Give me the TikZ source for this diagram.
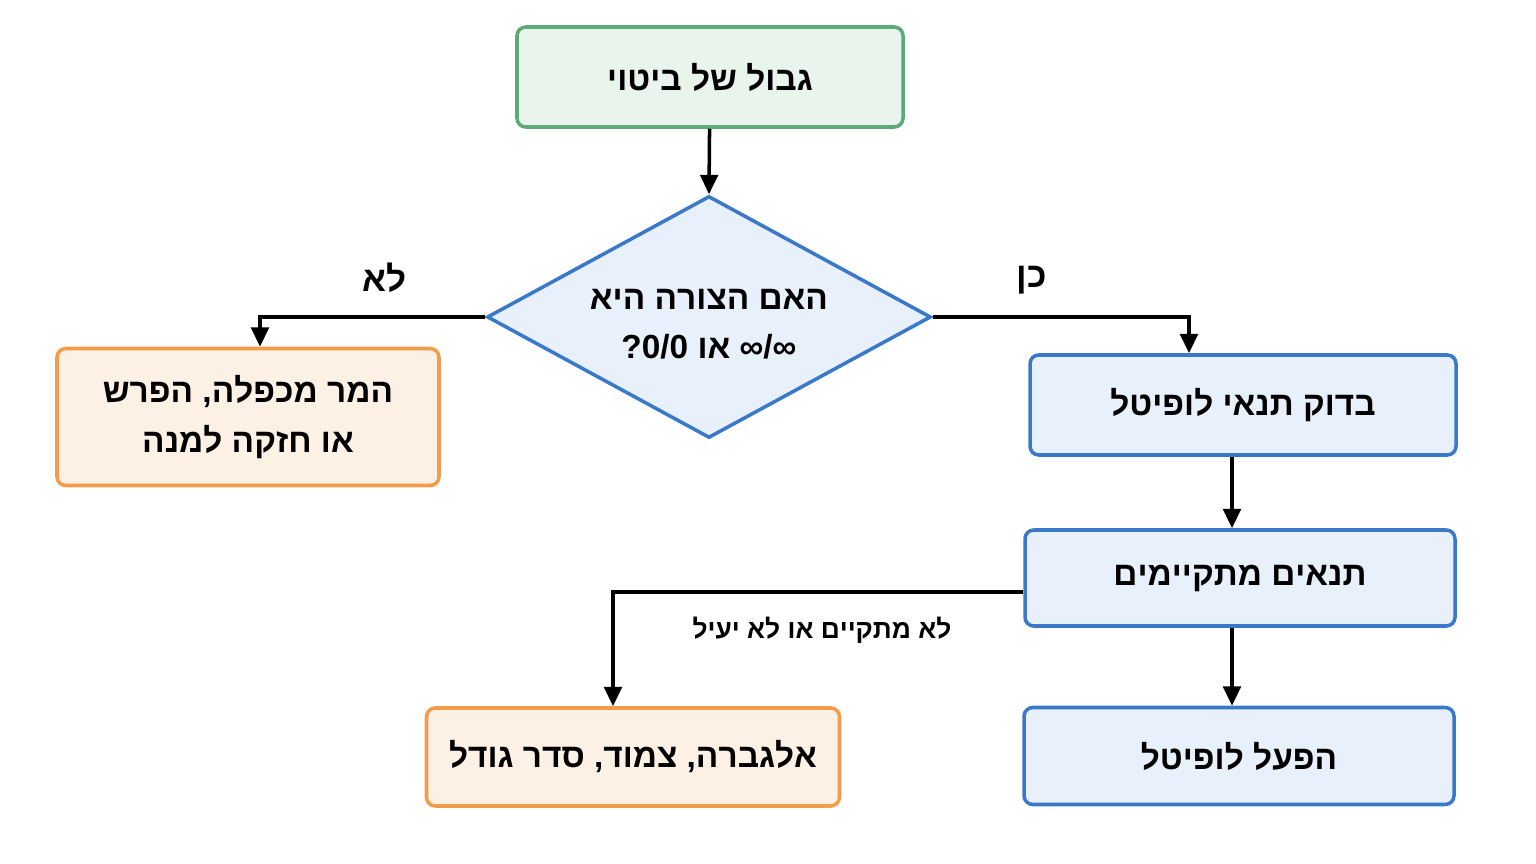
\documentclass[tikz,border=0pt]{standalone}
\usepackage{fontspec}
\setmainfont{Liberation Sans}
\usetikzlibrary{shapes.geometric,arrows.meta}
\TeXXeTstate=1
\newcommand{\RL}[1]{\beginR #1\endR}
\newcommand{\LR}[1]{\beginL #1\endL}
\definecolor{gfill}{HTML}{E9F5EC}\definecolor{gline}{HTML}{5BAA78}
\definecolor{bfill}{HTML}{E8F0FB}\definecolor{bline}{HTML}{3A78C9}
\definecolor{ofill}{HTML}{FDF0E4}\definecolor{oline}{HTML}{F39C4A}
\begin{document}
\begin{tikzpicture}[x=0.02cm,y=-0.02cm,
 box/.style={rectangle,rounded corners=5pt,line width=2pt,align=center,font=\fontsize{19}{28}\selectfont\bfseries,inner sep=0pt},
 arr/.style={line width=2pt,-{Triangle[length=11pt,width=10pt]}},
 lab/.style={font=\fontsize{20}{24}\selectfont\bfseries}]
\useasboundingbox[fill=white] (0,0) rectangle (1536,864);
\node[box,fill=gfill,draw=gline,minimum width=386*0.02cm,minimum height=100*0.02cm] (start) at (710,77) {\RL{גבול של ביטוי}};
\node[diamond,aspect=1.83,fill=bfill,draw=bline,line width=2pt,minimum width=444*0.02cm,minimum height=242*0.02cm,inner sep=0pt] (dec) at (709,317) {};
\node[align=center,font=\fontsize{19}{28}\selectfont\bfseries] at (709,324) {\RL{האם הצורה היא}\\\RL{\LR{∞/∞} או \LR{0/0}?}};
\node[box,fill=ofill,draw=oline,minimum width=382*0.02cm,minimum height=137*0.02cm] (alt) at (248,417) {\RL{המר מכפלה, הפרש}\\\RL{או חזקה למנה}};
\node[box,fill=bfill,draw=bline,minimum width=426*0.02cm,minimum height=100*0.02cm] (b1) at (1243,405) {\RL{בדוק תנאי לופיטל}};
\node[box,fill=bfill,draw=bline,minimum width=430*0.02cm,minimum height=96*0.02cm] (b2) at (1240,578) {\RL{תנאים מתקיימים}};
\node[box,fill=bfill,draw=bline,minimum width=430*0.02cm,minimum height=97*0.02cm] (b3) at (1239,756) {\RL{הפעל לופיטל}};
\node[box,fill=ofill,draw=oline,minimum width=413*0.02cm,minimum height=98*0.02cm] (alg) at (633,757) {\RL{אלגברה, צמוד, סדר גודל}};
\draw[arr] (start) -- (dec.north);
\draw[arr] (dec.west) -| (alt.north -| 260,0);
\draw[arr] (dec.east) -| (b1.north -| 1189,0);
\draw[arr] (b1.south -| 1232,0) -- (b2.north -| 1232,0);
\draw[arr] (b2.south -| 1232,0) -- (b3.north -| 1232,0);
\draw[arr] (b2.west |- 0,592) -| (alg.north -| 613,0);
\node[lab] at (385,278) {\RL{לא}};
\node[lab] at (1032,280) {\RL{כן}};
\node[font=\fontsize{15}{20}\selectfont\bfseries] at (822,630) {\RL{לא מתקיים או לא יעיל}};
\end{tikzpicture}
\end{document}
